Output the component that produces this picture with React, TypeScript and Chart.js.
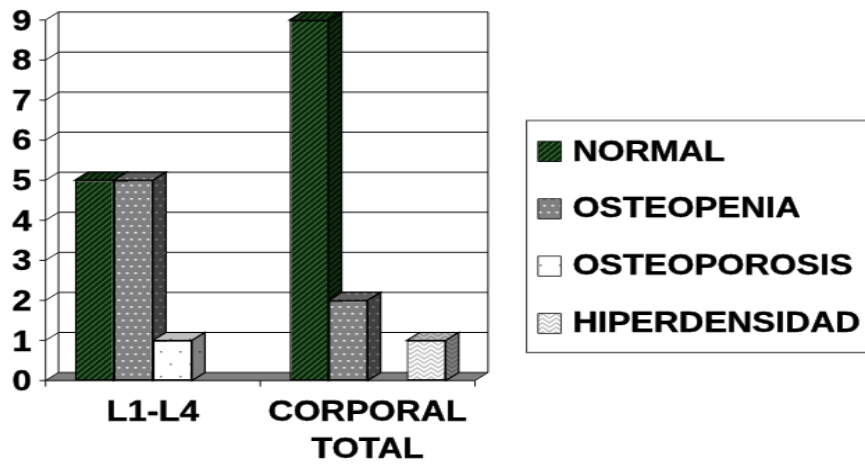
import React, { useEffect, useRef } from "react";
import { Chart, registerables } from "chart.js";

Chart.register(...registerables);

const categories = ["L1-L4", ["CORPORAL", "TOTAL"]];
const normal = [5, 9];
const osteopenia = [5, 2];
const osteoporosis = [1, 0];
const hiperdensidad = [0, 1];
const seriesNames = ["NORMAL", "OSTEOPENIA", "OSTEOPOROSIS", "HIPERDENSIDAD"];
const yTicks = [0, 1, 2, 3, 4, 5, 6, 7, 8, 9];

// The reference is an enlarged, stretched picture: draw small, show wide.
const W = 865, H = 468, SX = 1.39, SY = 1.125;
const CW = Math.round(W / SX), CH = Math.round(H / SY);
const px = (x: number) => x * (CW / W);
const py = (y: number) => y * (CH / H);
const DX = px(13), DY = py(8);
const FAMILY = "'Liberation Sans', Arial, sans-serif";
const FONT = `bold 25px ${FAMILY}`;

function tile(w: number, h: number, paint: (c: CanvasRenderingContext2D) => void) {
  const t = document.createElement("canvas");
  t.width = w; t.height = h;
  const c = t.getContext("2d")!;
  paint(c);
  return document.createElement("canvas").getContext("2d")!.createPattern(t, "repeat")!;
}

function makePatterns() {
  const hatch = tile(5, 5, (c) => {
    c.fillStyle = "#052c05"; c.fillRect(0, 0, 5, 5);
    c.strokeStyle = "#4c6c4c"; c.lineWidth = 1.2;
    c.beginPath();
    c.moveTo(-5, 5); c.lineTo(0, 0);
    c.moveTo(0, 5); c.lineTo(5, 0);
    c.moveTo(5, 5); c.lineTo(10, 0);
    c.stroke();
  });
  const dots = tile(6, 12, (c) => {
    c.fillStyle = "#808080"; c.fillRect(0, 0, 6, 12);
    c.fillStyle = "#e8e8e8";
    c.fillRect(0.5, 2, 2, 1.6); c.fillRect(3.5, 8, 2, 1.6);
  });
  const sparse = tile(14, 22, (c) => {
    c.fillStyle = "#ffffff"; c.fillRect(0, 0, 14, 22);
    c.fillStyle = "#777777";
    c.fillRect(3, 4, 1.5, 1.5); c.fillRect(10, 15, 1.5, 1.5);
  });
  const weave = tile(10, 8, (c) => {
    c.fillStyle = "#c0c0c0"; c.fillRect(0, 0, 10, 8);
    c.strokeStyle = "#ffffff"; c.lineWidth = 1.7;
    c.beginPath();
    [-8, -4, 0, 4, 8].forEach((o) => {
      c.moveTo(-1, o); c.lineTo(5, o + 5); c.lineTo(11, o);
    });
    c.stroke();
  });
  return [hatch, dots, sparse, weave];
}

function poly(c: CanvasRenderingContext2D, pts: number[][]) {
  c.beginPath();
  pts.forEach(([x, y], i) => (i ? c.lineTo(x, y) : c.moveTo(x, y)));
  c.closePath();
}

const frame3d = {
  id: "frame3d",
  beforeDatasetsDraw(chart: any) {
    const c: CanvasRenderingContext2D = chart.ctx;
    const { left, right, top, bottom } = chart.chartArea;
    const y = chart.scales.y, x = chart.scales.x;
    c.save();
    // floor
    c.fillStyle = "#808080";
    poly(c, [[left, bottom], [left + DX, bottom - DY], [right + DX, bottom - DY], [right, bottom]]);
    c.fill();
    c.strokeStyle = "#111"; c.lineWidth = 1;
    c.beginPath();
    y.ticks.forEach((t: any) => {
      const p = y.getPixelForValue(t.value);
      c.moveTo(left - px(6), p); c.lineTo(left, p);
      c.lineTo(left + DX, p - DY); c.lineTo(right + DX, p - DY);
    });
    c.moveTo(left, top); c.lineTo(left, bottom);
    c.moveTo(left + DX, top - DY); c.lineTo(left + DX, bottom - DY);
    c.moveTo(right + DX, top - DY); c.lineTo(right + DX, bottom - DY);
    c.lineTo(right, bottom);
    c.moveTo(left, bottom); c.lineTo(right, bottom);
    const step = (right - left) / x.ticks.length;
    for (let i = 0; i <= x.ticks.length; i++) {
      c.moveTo(left + step * i, bottom); c.lineTo(left + step * i, bottom + py(6));
    }
    c.stroke();
    // depth faces of every bar, left to right; the front faces are drawn after them
    c.strokeStyle = "#000"; c.lineWidth = 1.2;
    chart.data.datasets.forEach((d: any, di: number) => {
      chart.getDatasetMeta(di).data.forEach((bar: any, i: number) => {
        if (!d.data[i]) return;
        const l = bar.x - bar.width / 2, r = bar.x + bar.width / 2, t = bar.y, b = bar.base;
        const topFace = [[l, t], [l + DX, t - DY], [r + DX, t - DY], [r, t]];
        const side = [[r, t], [r + DX, t - DY], [r + DX, b - DY], [r, b]];
        c.fillStyle = d.backgroundColor; poly(c, topFace); c.fill();
        c.fillStyle = "rgba(0,0,0,0.25)"; poly(c, topFace); c.fill();
        poly(c, topFace); c.stroke();
        c.fillStyle = d.backgroundColor; poly(c, side); c.fill();
        c.fillStyle = "rgba(0,0,0,0.5)"; poly(c, side); c.fill();
        poly(c, side); c.stroke();
      });
    });
    c.restore();
  },
  afterDraw(chart: any) {
    const c: CanvasRenderingContext2D = chart.ctx;
    const bl = px(526.5), bt = py(120.5), br = px(872), bb = py(352.5);
    c.save();
    c.fillStyle = "#fff"; c.strokeStyle = "#333"; c.lineWidth = 1;
    c.fillRect(bl, bt, br - bl, bb - bt); c.strokeRect(bl, bt, br - bl, bb - bt);
    c.font = FONT; c.textBaseline = "middle"; c.textAlign = "left";
    chart.data.datasets.forEach((d: any, i: number) => {
      const cy = py(151.5 + i * 57.3);
      c.fillStyle = d.backgroundColor;
      c.fillRect(px(538), cy - py(10), px(23), py(20));
      c.strokeStyle = "#000"; c.lineWidth = 0.8;
      c.strokeRect(px(538), cy - py(10), px(23), py(20));
      c.fillStyle = "#000";
      c.strokeStyle = "#000"; c.lineWidth = 0.4; c.lineJoin = "round";
      c.fillText(d.label, px(572.5), cy + 1);
      c.strokeText(d.label, px(572.5), cy + 1);
    });
    c.restore();
  },
};

export default function App() {
  const ref = useRef<HTMLCanvasElement>(null);
  useEffect(() => {
    const patterns = makePatterns();
    const values = [normal, osteopenia, osteoporosis, hiperdensidad];
    const chart = new Chart(ref.current!, {
      type: "bar",
      data: {
        labels: categories as any,
        datasets: values.map((data, i) => ({
          label: seriesNames[i],
          data,
          backgroundColor: patterns[i] as any,
          borderColor: "#000",
          borderWidth: (ctx: any) => (ctx.raw === 0 ? 0 : 1.2),
          borderSkipped: false,
          barPercentage: 1,
          categoryPercentage: 0.727,
        })),
      },
      options: {
        responsive: false,
        animation: false,
        layout: { autoPadding: false, padding: { top: py(20), right: CW - px(475), bottom: 0, left: 0 } },
        plugins: { legend: { display: false }, title: { display: false }, tooltip: { enabled: false } },
        scales: {
          x: {
            grid: { display: false, drawTicks: false },
            border: { display: false },
            afterFit: (s: any) => { s.height = CH - py(380.5); },
            ticks: {
              color: "#000",
              font: { family: FAMILY, size: 25, weight: "bold", lineHeight: 1.32 },
              textStrokeColor: "#000",
              textStrokeWidth: 0.4,
              padding: py(14),
              maxRotation: 0,
              autoSkip: false,
            },
          },
          y: {
            min: yTicks[0],
            max: yTicks[yTicks.length - 1],
            grid: { display: false, drawTicks: false },
            border: { display: false },
            afterFit: (s: any) => {
              s.width = px(45.5);
              s.paddingTop = 0;
              s.paddingBottom = 0;
              if (s._margins) { s._margins.top = 0; s._margins.bottom = 0; }
            },
            ticks: {
              stepSize: 1,
              color: "#000",
              font: { family: FAMILY, size: 25, weight: "bold" },
              textStrokeColor: "#000",
              textStrokeWidth: 0.4,
              padding: px(14),
              labelOffset: 2,
            },
          },
        },
      } as any,
      plugins: [frame3d],
    });
    return () => chart.destroy();
  }, []);
  return (
    <canvas
      ref={ref}
      width={CW}
      height={CH}
      style={{ position: "absolute", left: 0, top: 0, width: W, height: H, display: "block" }}
    />
  );
}
